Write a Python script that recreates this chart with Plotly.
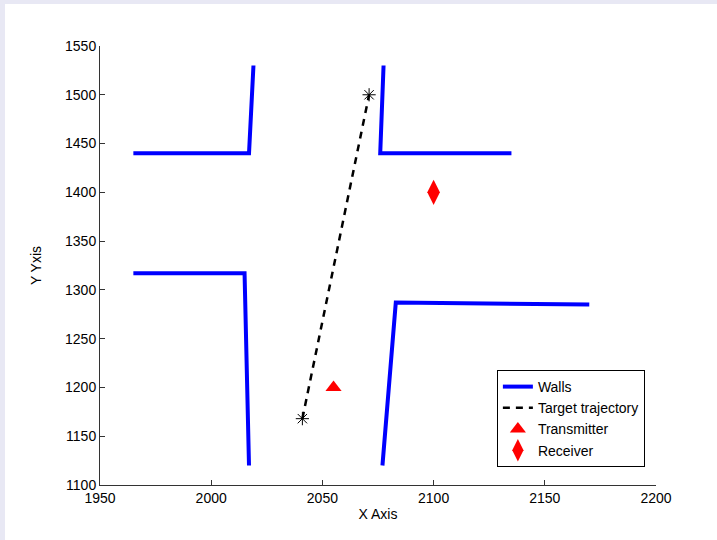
import plotly.graph_objects as go

# Walls (None separates the four wall segments)
wall_x = [1965, 2017, 2019, None, 2077.5, 2076, 2135, None, 1965, 2015, 2017, None, 2077, 2083, 2170]
wall_y = [1440, 1440, 1530, None, 1530, 1440, 1440, None, 1317, 1317, 1120, None, 1120, 1287, 1285]

# Target trajectory endpoints
traj_x = [2041, 2071]
traj_y = [1168, 1500]

# Transmitter and receiver
tx_x, tx_y = [2055], [1200]
rx_x, rx_y = [2100], [1400]

x_ticks = [1950, 2000, 2050, 2100, 2150, 2200]
y_ticks = [1100, 1150, 1200, 1250, 1300, 1350, 1400, 1450, 1500, 1550]

font = "Liberation Sans, Arial, Helvetica, sans-serif"

fig = go.Figure()
fig.add_trace(go.Scatter(x=wall_x, y=wall_y, mode="lines", name="Walls",
                         line=dict(color="#0000ff", width=4)))
fig.add_trace(go.Scatter(x=traj_x, y=traj_y, mode="lines", name="Target trajectory",
                         line=dict(color="black", width=2.5, dash="7px,6px")))
fig.add_trace(go.Scatter(x=traj_x, y=traj_y, mode="markers", showlegend=False,
                         marker=dict(symbol="asterisk-open", size=11, color="black",
                                     line=dict(color="black", width=1))))
fig.add_trace(go.Scatter(x=tx_x, y=tx_y, mode="markers", name="Transmitter",
                         marker=dict(symbol="triangle-up", size=14, color="#ff0000")))
fig.add_trace(go.Scatter(x=rx_x, y=rx_y, mode="markers", name="Receiver",
                         marker=dict(symbol="diamond-tall", size=18, color="#ff0000")))

axis_common = dict(showgrid=False, zeroline=False, showline=True, linecolor="#333333",
                   linewidth=1, ticks="inside", ticklen=5, tickcolor="#333333",
                   tickfont=dict(family=font, size=14, color="black"), mirror=False)

fig.update_layout(
    width=717, height=540,
    margin=dict(l=100, r=61, t=46, b=55),
    paper_bgcolor="#e8e8f4",
    plot_bgcolor="white",
    font=dict(family=font, size=14, color="black"),
    xaxis=dict(range=[1950, 2200], tickvals=x_ticks,
               title=dict(text="X Axis", font=dict(family=font, size=14), standoff=4),
               **axis_common),
    yaxis=dict(range=[1100, 1550], tickvals=y_ticks,
               title=dict(text="Y Yxis", font=dict(family=font, size=14), standoff=20),
               **axis_common),
    legend=dict(x=0.98, y=0.041, xanchor="right", yanchor="bottom",
                bgcolor="white", bordercolor="black", borderwidth=1,
                font=dict(family=font, size=14), tracegroupgap=0,
                entrywidth=180, entrywidthmode="pixels"),
    shapes=[dict(type="rect", xref="paper", yref="paper", layer="below",
                 x0=-95 / 556, x1=1.2, y0=-0.2, y1=(485 - 4) / 439,
                 fillcolor="white", line=dict(width=0))],
    showlegend=True,
)

fig.write_html("out.html")
